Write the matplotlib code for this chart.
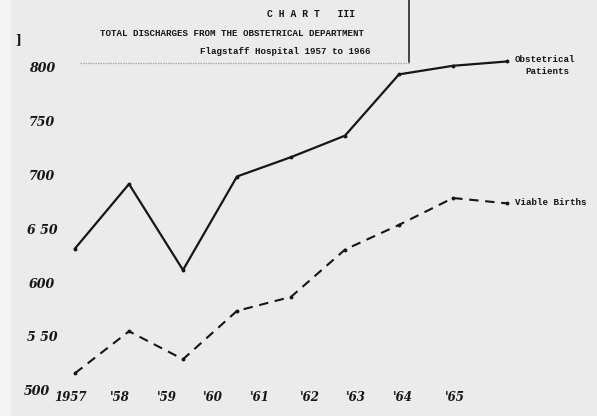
import matplotlib
matplotlib.use("Agg")
import matplotlib.pyplot as plt

# Discharges from the obstetrical department, Flagstaff Hospital
years = [1957, 1958, 1959, 1960, 1961, 1962, 1963, 1964, 1965]
obstetrical_patients = [633, 693, 613, 700, 718, 738, 795, 803, 807]
viable_births = [517, 556, 530, 575, 588, 632, 655, 680, 675]

year_labels = ["1957", "'58", "'59", "'60", "'61", "'62", "'63", "'64", "'65"]
value_ticks = [800, 750, 700, 650, 600, 550, 500]
value_labels = ["800", "750", "700", "6 50", "600", "5 50", "500"]

W, H = 597, 416
paper = "#ebebeb"
ink = "#161616"

fig = plt.figure(figsize=(W / 100, H / 100), dpi=100, facecolor=paper)
ax = fig.add_axes([0, 0, 1, 1])
ax.set_facecolor(paper)
ax.set_axis_off()

# pixel <-> data helpers for the sheet layout
x0_px, dx_px = 75, 54.0
y0_px, dy_px = 69, 1.075


def xd(px):
    return 1957 + (px - x0_px) / dx_px


def yd(py):
    return 800 - (py - y0_px) / dy_px


ax.set_xlim(xd(0), xd(W))
ax.set_ylim(yd(H), yd(0))

# lighter strip along the left edge of the sheet
ax.axvspan(xd(0), xd(11), color="#f4f4f4", lw=0)

# the two series
ax.plot(years, obstetrical_patients, color=ink, lw=1.6,
        marker="o", ms=1.8, solid_joinstyle="round")
ax.plot(years, viable_births, color=ink, lw=1.5, dashes=[4.5, 3.2],
        marker="o", ms=1.8)

# hand-lettered value scale
hand = dict(family="DejaVu Serif", fontstyle="italic", fontweight="bold",
            fontsize=9, color=ink, ha="center", va="center")
for v, lab in zip(value_ticks, value_labels):
    xpx = 37 if v == 500 else 42
    ax.text(xd(xpx), v, lab, **hand)

# hand-lettered year scale (written slightly tighter than the plotted points)
label_px = [70, 120, 167, 213, 260, 310, 356, 403, 455]
for xp, lab in zip(label_px, year_labels):
    ax.text(xd(xp), yd(397), lab, **dict(hand, fontsize=8.5))

# typewritten heading
tw = dict(family="Liberation Mono", fontweight="bold", color=ink,
          ha="left", va="center")
fig.text(267 / W, 1 - 14 / H, "C H A R T   III", fontsize=7, **tw)
fig.text(100 / W, 1 - 34 / H,
         "TOTAL DISCHARGES FROM THE OBSTETRICAL DEPARTMENT", fontsize=6.6, **tw)
fig.text(200 / W, 1 - 52 / H, "Flagstaff Hospital 1957 to 1966",
         fontsize=6.6, **tw)

# series captions
fig.text(515 / W, 1 - 60 / H, "Obstetrical", fontsize=6.6, **tw)
fig.text(525 / W, 1 - 72 / H, "Patients", fontsize=6.6, **tw)
fig.text(515 / W, 1 - 203 / H, "Viable Births", fontsize=6.6, **tw)

# box rule around the heading
ax.plot([xd(409), xd(409)], [yd(0), yd(62)], color=ink, lw=1.1)
ax.plot([xd(80), xd(409)], [yd(63), yd(63)], color="#9a9a9a", lw=0.9,
        ls=(0, (1.2, 0.8)), alpha=0.8)

# bracket mark at the top left
fig.text(18 / W, 1 - 40 / H, "]", fontsize=9, fontweight="bold",
         color=ink, ha="center", va="center", family="DejaVu Serif")

fig.savefig("out.png", dpi=100, facecolor=paper)
